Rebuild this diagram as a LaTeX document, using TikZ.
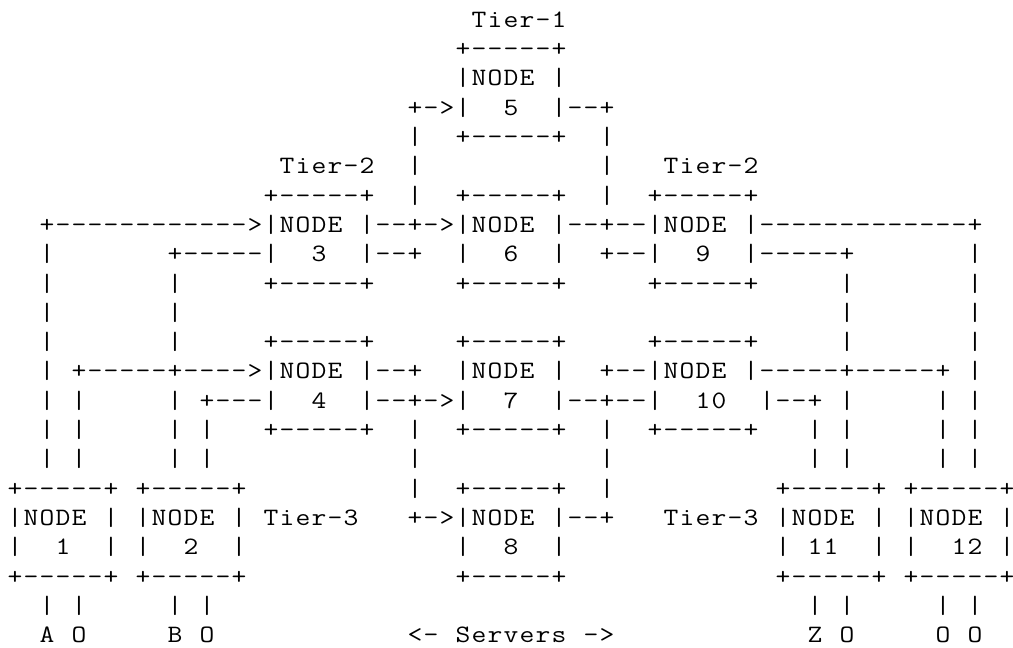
\documentclass[tikz,border=0pt]{standalone}
\usepackage{fontspec}
\usepackage{graphicx}
\ExplSyntaxOn
\NewDocumentCommand \asciirow { m }
  {
    \str_map_inline:nn { #1 }
      {
        \str_if_eq:nnTF { ##1 } { . }
          { \hbox_to_wd:nn { 16pt } { \hfil } }
          { \hbox_to_wd:nn { 16pt } { \hfil \scalebox{1.15}[1]{##1} \hfil } }
      }
  }
\ExplSyntaxOff
% \ascseg{name}{row}{column}{text, '.' = blank cell}
\newcommand{\ascseg}[4]{\node[asc] (#1) at ({7+16*#3},{-27.3-29.3*#2}) {\asciirow{#4}};}
\begin{document}
\begin{tikzpicture}[x=1pt,y=1pt,
  asc/.style={anchor=base west,inner sep=0pt,outer sep=0pt,text=black,
    font=\ttfamily\fontsize{25}{29.3}\selectfont}]
\fill[white] (0,0) rectangle (1013,-648);
\useasboundingbox (0,0) rectangle (1013,-648);
% Tier-1
\ascseg{r0}{0}{29}{Tier-1}
\ascseg{r1}{1}{28}{+-----+}
\ascseg{r2}{2}{28}{|NODE.|}
\ascseg{r3}{3}{25}{+->|..5..|--+}
\ascseg{r4}{4}{25}{|..+-----+..|}
% Tier-2
\ascseg{r5a}{5}{17}{Tier-2}
\ascseg{r5b}{5}{25}{|}
\ascseg{r5c}{5}{37}{|}
\ascseg{r5d}{5}{41}{Tier-2}
\ascseg{r6}{6}{16}{+-----+..|..+-----+..|..+-----+}
\ascseg{r7}{7}{2}{+------------>|NODE.|--+->|NODE.|--+--|NODE.|-------------+}
\ascseg{r8a}{8}{2}{|}
\ascseg{r8b}{8}{10}{+-----|..3..|--+..|..6..|..+--|..9..|-----+}
\ascseg{r8c}{8}{60}{|}
\ascseg{r9a}{9}{2}{|}
\ascseg{r9b}{9}{10}{|.....+-----+.....+-----+.....+-----+.....|}
\ascseg{r9c}{9}{60}{|}
\ascseg{r10a}{10}{2}{|}
\ascseg{r10b}{10}{10}{|}
\ascseg{r10c}{10}{52}{|}
\ascseg{r10d}{10}{60}{|}
\ascseg{r11a}{11}{2}{|}
\ascseg{r11b}{11}{10}{|.....+-----+.....+-----+.....+-----+.....|}
\ascseg{r11c}{11}{60}{|}
\ascseg{r12}{12}{2}{|.+-----+---->|NODE.|--+..|NODE.|..+--|NODE.|-----+-----+.|}
\ascseg{r13a}{13}{2}{|.|}
\ascseg{r13b}{13}{10}{|.+---|..4..|--+->|..7..|--+--|..10..|--+.|}
\ascseg{r13c}{13}{58}{|.|}
\ascseg{r14a}{14}{2}{|.|}
\ascseg{r14b}{14}{10}{|.|...+-----+..|..+-----+..|..+-----+...|.|}
\ascseg{r14c}{14}{58}{|.|}
\ascseg{r15a}{15}{2}{|.|}
\ascseg{r15b}{15}{10}{|.|}
\ascseg{r15c}{15}{25}{|}
\ascseg{r15d}{15}{37}{|}
\ascseg{r15e}{15}{50}{|.|}
\ascseg{r15f}{15}{58}{|.|}
% Tier-3
\ascseg{r16a}{16}{0}{+-----+.+-----+}
\ascseg{r16b}{16}{25}{|..+-----+..|}
\ascseg{r16c}{16}{48}{+-----+.+-----+}
\ascseg{r17a}{17}{0}{|NODE.|.|NODE.|.Tier-3}
\ascseg{r17b}{17}{25}{+->|NODE.|--+}
\ascseg{r17c}{17}{41}{Tier-3.|NODE.|.|NODE.|}
\ascseg{r18a}{18}{0}{|..1..|.|..2..|}
\ascseg{r18b}{18}{28}{|..8..|}
\ascseg{r18c}{18}{48}{|.11..|.|..12.|}
\ascseg{r19a}{19}{0}{+-----+.+-----+}
\ascseg{r19b}{19}{28}{+-----+}
\ascseg{r19c}{19}{48}{+-----+.+-----+}
\ascseg{r20a}{20}{2}{|.|}
\ascseg{r20b}{20}{10}{|.|}
\ascseg{r20c}{20}{50}{|.|}
\ascseg{r20d}{20}{58}{|.|}
% servers
\ascseg{r21a}{21}{2}{A.O}
\ascseg{r21b}{21}{10}{B.O}
\ascseg{r21c}{21}{25}{<-.Servers.->}
\ascseg{r21d}{21}{50}{Z.O}
\ascseg{r21e}{21}{58}{O.O}
\end{tikzpicture}
\end{document}
